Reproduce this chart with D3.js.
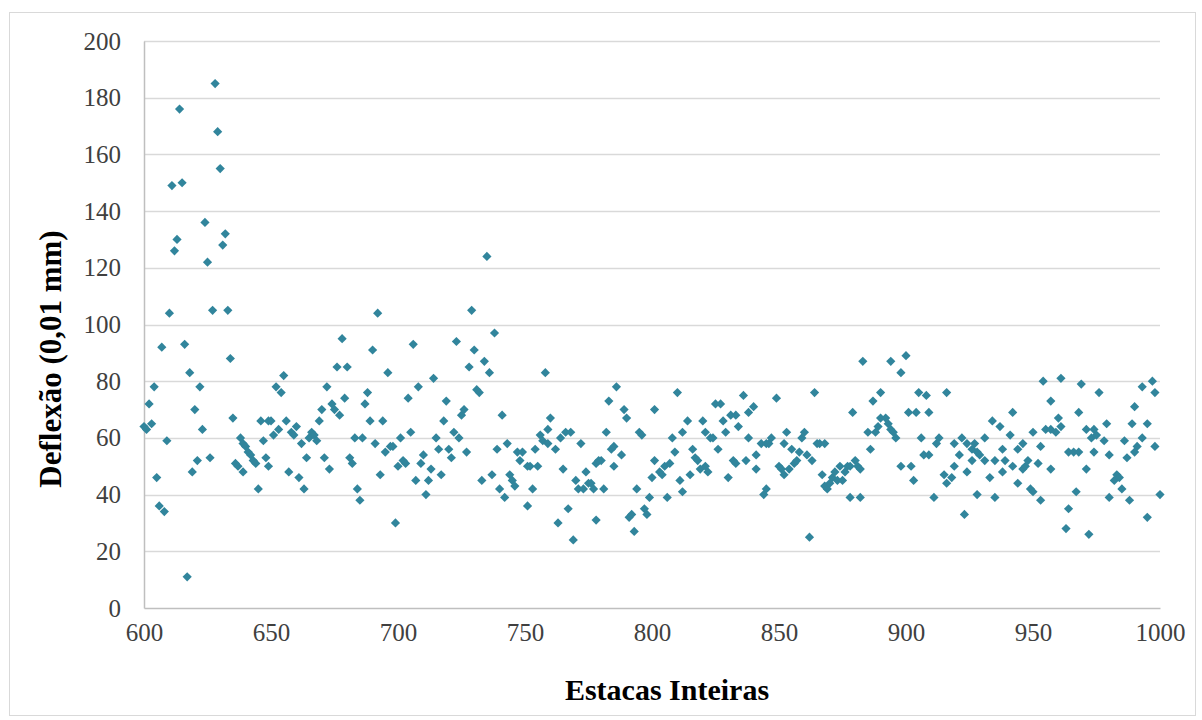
<!DOCTYPE html>
<html>
<head>
<meta charset="utf-8">
<script src="https://cdn.jsdelivr.net/npm/d3@7"></script>
<style>
  body { margin: 0; background: #fff; }
  svg { display: block; }
</style>
</head>
<body>
<svg></svg>
<script>
// estaca (x) e deflexão (y)
const stakes = [
  600,601,602,603,604,605,606,607,608,609,610,611,612,613,614,615,616,617,618,619,
  620,621,622,623,624,625,626,627,628,629,630,631,632,633,634,635,636,637,638,639,
  639,640,641,642,643,644,645,646,647,648,649,649,
  650,651,652,653,654,655,656,657,658,659,660,661,662,663,664,665,666,667,668,669,
  670,671,672,673,674,675,676,677,678,679,680,681,682,683,684,685,686,687,688,689,
  690,691,692,693,694,695,696,697,698,699,
  700,701,702,703,704,705,706,707,708,709,710,711,712,713,714,715,716,717,718,719,
  720,721,722,723,724,725,726,727,728,729,730,731,732,733,734,735,736,737,738,739,
  740,741,742,743,744,745,746,747,748,749,
  751,751,752,753,754,755,756,757,758,759,759,760,762,763,764,765,766,767,768,769,
  770,771,772,773,774,775,776,777,778,778,779,780,781,782,783,784,785,785,786,788,
  789,790,791,792,793,794,795,796,797,798,799,800,
  801,801,803,804,805,806,807,808,809,810,811,812,812,814,815,816,817,818,819,820,
  821,821,822,823,824,825,826,827,828,829,830,831,832,833,833,834,836,837,838,838,
  840,841,841,843,844,845,845,846,847,849,850,
  851,852,852,853,854,855,856,857,858,859,860,861,862,863,864,865,866,867,868,868,
  869,870,871,872,873,874,875,876,877,878,878,879,880,881,882,882,883,885,886,887,
  888,889,890,890,892,893,894,894,895,896,898,898,900,
  901,902,903,904,905,906,907,908,909,909,911,912,913,915,916,916,918,919,919,921,
  922,923,924,924,926,926,927,928,928,929,931,931,933,934,935,935,937,938,938,939,
  941,942,942,944,944,
  946,946,947,948,949,950,950,952,953,953,954,955,957,957,957,959,960,961,961,963,
  964,964,966,967,968,968,969,971,971,972,973,974,974,975,976,978,979,980,980,982,
  983,984,985,986,987,988,989,990,990,991,993,993,995,995,997,998,998,1000
];
const deflections = [
  64,63,72,65,78,46,36,92,34,59,104,149,126,130,176,150,93,11,83,48,
  70,52,78,63,136,122,53,105,185,168,155,128,132,105,88,67,51,50,60,58,
  48,57,55,54,52,51,42,66,59,53,50,66,
  66,61,78,63,76,82,66,48,62,61,64,46,58,42,53,60,62,61,59,66,
  70,53,78,49,72,70,85,68,95,74,85,53,51,60,42,38,60,72,76,66,
  91,58,104,47,66,55,83,57,57,30,
  50,60,52,51,74,62,93,45,78,51,54,40,45,49,81,60,56,47,66,73,
  56,53,62,94,60,68,70,55,85,105,91,77,76,45,87,124,83,47,97,56,
  42,68,39,58,47,45,43,55,52,55,
  50,36,50,42,56,50,61,59,83,63,58,67,56,30,60,49,62,35,62,24,
  45,42,58,42,48,44,44,42,51,31,52,52,42,62,73,56,57,50,78,54,
  70,67,32,33,27,42,62,61,35,33,39,46,
  70,52,48,47,50,39,51,60,55,76,45,62,41,66,47,56,53,52,49,66,
  62,50,48,60,60,72,56,72,66,62,46,68,52,68,51,64,75,52,69,60,
  71,54,49,58,40,58,42,58,60,74,50,
  49,58,47,62,49,56,51,52,55,60,62,54,25,52,76,58,58,47,58,43,
  42,44,46,48,45,50,45,48,50,50,39,69,52,50,49,39,87,62,56,73,
  62,64,67,76,67,65,63,87,62,60,83,50,89,
  69,50,45,69,76,60,54,75,69,54,39,58,60,47,76,44,46,58,50,54,
  60,33,58,48,52,56,58,55,40,54,60,52,46,66,52,39,64,56,48,52,
  61,69,50,56,44,
  58,49,50,52,42,41,62,51,57,38,80,63,73,63,49,62,67,64,81,28,
  35,55,55,41,55,69,79,63,49,26,60,63,55,61,76,59,65,54,39,45,
  47,46,42,59,53,38,65,71,55,57,78,60,65,32,80,76,57,40
];
const yTicks = [0, 20, 40, 60, 80, 100, 120, 140, 160, 180, 200];
const xTicks = [600, 650, 700, 750, 800, 850, 900, 950, 1000];

const points = stakes.map((s, i) => ({ s, v: deflections[i] }));

const width = 1202, height = 720;
const plotLeft = 144, plotRight = 1160, plotTop = 41, plotBottom = 608;
const serif = '"Liberation Serif", "Times New Roman", serif';

const svg = d3.select('svg').attr('width', width).attr('height', height);

// moldura do gráfico
svg.append('rect')
  .attr('x', 9.5).attr('y', 12.5)
  .attr('width', 1186).attr('height', 703)
  .attr('fill', '#fff').attr('stroke', '#d9d9d9');

const x = d3.scaleLinear().domain([600, 1000]).range([plotLeft, plotRight]);
const y = d3.scaleLinear().domain([0, 200]).range([plotBottom, plotTop]);

// grade horizontal
svg.append('g')
  .selectAll('line')
  .data(yTicks.filter(t => t > 0))
  .join('line')
  .attr('x1', plotLeft).attr('x2', plotRight)
  .attr('y1', d => Math.round(y(d)) + 0.5).attr('y2', d => Math.round(y(d)) + 0.5)
  .attr('stroke', '#d9d9d9').attr('stroke-width', 1.3);

const yAxis = d3.axisLeft(y).tickValues(yTicks).tickSize(0).tickPadding(23);
const xAxis = d3.axisBottom(x).tickValues(xTicks).tickSize(0).tickPadding(15).tickFormat(d3.format('d'));

const gy = svg.append('g').attr('transform', `translate(${plotLeft},0)`).call(yAxis);
const gx = svg.append('g').attr('transform', `translate(0,${plotBottom})`).call(xAxis);

[gx, gy].forEach(g => {
  g.select('.domain').attr('stroke', '#bfbfbf').attr('stroke-width', 1.5);
  g.selectAll('text')
    .attr('fill', '#404040')
    .style('font-family', serif)
    .style('font-size', '25px');
});

// pontos (losangos)
const r = 4.6;
const diamond = `M0,${-r}L${r},0L0,${r}L${-r},0Z`;
svg.append('g')
  .selectAll('path')
  .data(points)
  .join('path')
  .attr('d', diamond)
  .attr('transform', d => `translate(${x(d.s)},${y(d.v)})`)
  .attr('fill', '#31859c');

// títulos
svg.append('text')
  .attr('x', 667).attr('y', 700)
  .attr('text-anchor', 'middle')
  .style('font-family', serif)
  .style('font-weight', 'bold')
  .style('font-size', '30px')
  .text('Estacas Inteiras');

svg.append('text')
  .attr('transform', 'translate(61,359) rotate(-90)')
  .attr('text-anchor', 'middle')
  .style('font-family', serif)
  .style('font-weight', 'bold')
  .style('font-size', '31px')
  .text('Deflexão (0,01 mm)');
</script>
</body>
</html>
